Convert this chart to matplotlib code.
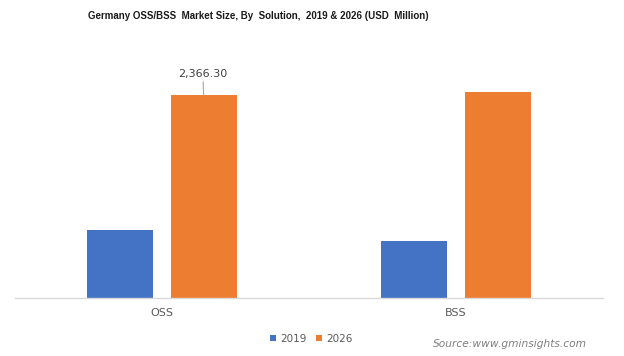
import matplotlib
matplotlib.use("Agg")
import matplotlib.pyplot as plt
import numpy as np

categories = ["OSS", "BSS"]
years = ["2019", "2026"]
values_2019 = [799, 671]
values_2026 = [2366.30, 2409]
colors = ["#4472C4", "#ED7D31"]

fig = plt.figure(figsize=(6.24, 3.56), dpi=100)
ax = fig.add_axes([14.5 / 624, 58 / 356, 588.5 / 624, 257 / 356])

x = np.arange(len(categories))
w = 0.224
off = 0.143
b1 = ax.bar(x - off, values_2019, w, color=colors[0], label=years[0])
b2 = ax.bar(x + off, values_2026, w, color=colors[1], label=years[1])

ax.set_xlim(-0.5, 1.5)
ax.set_ylim(0, 3000)
for s in ["top", "right", "left"]:
    ax.spines[s].set_visible(False)
ax.spines["bottom"].set_color("#D9D9D9")
ax.spines["bottom"].set_linewidth(1)
ax.set_yticks([])
ax.set_xticks(x)
ax.set_xticklabels(categories, fontsize=8, color="#595959")
ax.tick_params(axis="x", length=0, pad=7)

# data label with leader line on the OSS 2026 bar
v = values_2026[0]
ax.annotate(f"{v:,.2f}", xy=(x[0] + off, v), xytext=(x[0] + off - 0.003, v + 190),
            ha="center", va="bottom", fontsize=8, color="#404040",
            arrowprops=dict(arrowstyle="-", color="#A6A6A6", lw=0.8,
                            shrinkA=0, shrinkB=0))

fig.text(258 / 624, 1 - 16 / 356, "Germany OSS/BSS  Market Size, By  Solution,  2019 & 2026 (USD  Million)",
         ha="center", va="center", fontsize=7.0, fontweight="bold",
         family=["Liberation Sans Narrow", "Liberation Sans", "DejaVu Sans"], color="#1a1a1a")

leg = fig.legend(handles=[b1, b2], labels=years, loc="center",
                 bbox_to_anchor=(311 / 624, 1 - 338.5 / 356), ncol=2, frameon=False,
                 fontsize=7.5, handlelength=0.6, handleheight=0.6, handletextpad=0.4,
                 columnspacing=0.9, labelcolor="#595959")

fig.text(587 / 624, 1 - 344 / 356, "Source:www.gminsights.com", ha="right", va="center",
         fontsize=7.7, style="italic", color="#7f7f7f")

fig.savefig("out.png", dpi=100)
